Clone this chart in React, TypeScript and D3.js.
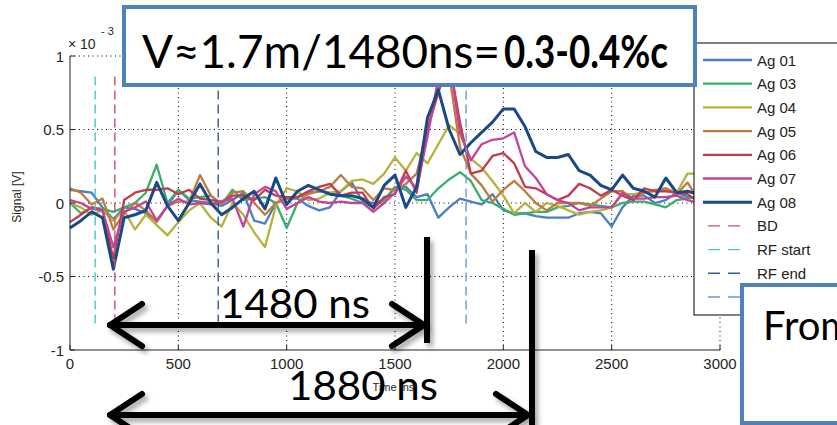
import React from 'react';
import * as d3 from 'd3';

// sample times (ns) of the scope traces
const timeNs = [
  0, 50, 100, 150, 200, 250, 300, 350, 400, 450, 500, 550, 600, 650, 700, 750,
  800, 850, 900, 950, 1000, 1050, 1100, 1150, 1200, 1250, 1300, 1350, 1400, 1450,
  1500, 1550, 1600, 1650, 1700, 1750, 1800, 1850, 1900, 1950, 2000, 2050, 2100,
  2150, 2200, 2250, 2300, 2350, 2400, 2450, 2500, 2550, 2600, 2650, 2700, 2750,
  2800, 2850, 2900, 2950, 3000,
];

// signal values in units of 1e-3 V
const ag01 = [
  0.09, 0.08, 0.07, -0.03, -0.11, -0.03, -0.04, -0.07, -0.12, -0.02, 0.09, 0.02, 0.01, 0.0, -0.02, 0.02,
  0.07, -0.12, -0.14, 0.0, 0.03, 0.03, -0.02, -0.05, -0.03, 0.08, 0.14, 0.01, 0.0, 0.02,
  0.1, 0.11, 0.04, 0.06, -0.1, -0.03, 0.03, 0.01, -0.01, 0.06, -0.05, -0.07, -0.07,
  -0.09, -0.1, -0.1, -0.1, -0.07, -0.06, -0.07, -0.16, -0.03, 0.05, 0.05, 0.0, 0.02,
  0.07, 0.04, 0.04, 0.03, 0.02,
];
const ag03 = [
  0.0, -0.07, -0.03, -0.04, -0.06, -0.03, 0.0, 0.07, 0.26, 0.0, 0.09, 0.03, 0.04, 0.05, -0.01, 0.09,
  0.02, 0.03, 0.04, 0.0, -0.17, 0.0, 0.07, 0.08, 0.07, 0.05, 0.03, 0.0, -0.03, 0.02,
  0.11, 0.09, 0.02, 0.02, 0.1, 0.16, 0.21, 0.15, 0.02, 0.0, -0.04, -0.08, -0.07,
  -0.06, -0.06, -0.03, -0.02, 0.0, -0.01, -0.02, -0.03, 0.0, 0.01, 0.01, -0.01, -0.03,
  0.02, 0.03, 0.04, 0.05, 0.04,
];
const ag04 = [
  0.0, -0.03, -0.08, -0.05, -0.12, -0.05, -0.18, -0.08, -0.15, -0.22, -0.13, -0.05, 0.0, -0.1, -0.16, 0.0,
  -0.08, -0.2, -0.3, -0.02, 0.1, 0.08, 0.02, 0.03, 0.07, 0.08, 0.15, 0.16, 0.13, 0.2,
  0.31, 0.22, 0.34, 0.27, 0.4, 0.53, 0.47, 0.3, 0.24, 0.15, 0.05, -0.07, 0.0,
  -0.06, 0.0, -0.02, -0.05, -0.08, -0.06, -0.05, -0.03, 0.06, 0.06, 0.07, 0.08, 0.1,
  0.07, 0.2, 0.2, 0.12, 0.08,
];
const ag05 = [
  0.1, 0.07, -0.01, 0.03, -0.18, -0.07, 0.0, -0.05, -0.13, -0.02, 0.01, 0.01, 0.19, 0.05, -0.01, 0.07,
  0.08, 0.0, -0.08, 0.0, 0.03, 0.04, 0.06, 0.08, 0.11, 0.19, 0.11, 0.1, 0.02, 0.1,
  0.09, 0.13, 0.2, 0.5, 0.8, 0.88, 0.38, 0.2, 0.12, 0.01, 0.09, 0.15, 0.08,
  0.0, -0.05, 0.0, 0.0, 0.0, -0.02, 0.03, 0.08, 0.08, 0.02, 0.07, 0.09, 0.1,
  0.06, 0.14, 0.02, 0.04, 0.03,
];
const ag06 = [
  -0.13, -0.08, -0.03, -0.05, -0.38, 0.02, 0.07, 0.09, 0.09, 0.1, 0.06, 0.09, 0.03, 0.02, 0.01, 0.05,
  0.05, 0.02, 0.09, 0.05, 0.04, 0.04, 0.08, 0.11, 0.13, 0.05, 0.07, 0.07, -0.04, 0.04,
  0.06, 0.22, 0.07, 0.5, 0.75, 0.97, 0.55, 0.2, 0.22, 0.32, 0.34, 0.27, 0.11,
  0.1, 0.06, 0.02, 0.05, 0.13, 0.1, 0.05, 0.09, 0.05, 0.02, 0.1, 0.08, 0.08,
  0.07, 0.06, 0.01, 0.04, 0.03,
];
const ag07 = [
  0.02, 0.0, -0.04, -0.05, -0.3, -0.06, -0.03, 0.01, -0.12, -0.02, 0.03, -0.01, 0.0, -0.01, 0.01, 0.03,
  -0.16, 0.06, 0.11, 0.08, -0.04, 0.0, 0.04, 0.01, 0.0, 0.01, 0.0, 0.0, -0.06, 0.0,
  0.07, 0.18, 0.1, 0.45, 0.85, 0.98, 0.48, 0.29, 0.4, 0.43, 0.44, 0.48, 0.25,
  0.17, 0.06, 0.02, 0.0, -0.05, -0.03, -0.03, -0.03, 0.07, 0.03, 0.03, 0.04, 0.04,
  0.05, 0.02, 0.0, 0.02, 0.01,
];
const ag08 = [
  -0.17, -0.12, -0.06, -0.1, -0.45, -0.1, -0.08, -0.05, 0.14, -0.02, -0.12, 0.0, 0.13, 0.0, -0.08, -0.03,
  0.03, 0.08, -0.04, 0.17, -0.01, 0.08, 0.12, 0.09, 0.06, 0.05, 0.05, 0.03, -0.03, 0.12,
  0.19, -0.03, 0.11, 0.58, 0.77, 0.5, 0.33, 0.41, 0.48, 0.55, 0.64, 0.64, 0.52,
  0.35, 0.31, 0.31, 0.33, 0.22, 0.19, 0.12, 0.09, 0.19, 0.1, 0.08, 0.04, 0.17,
  0.07, 0.08, 0.06, 0.05, 0.04,
];

const seriesNames = ['Ag 01', 'Ag 03', 'Ag 04', 'Ag 05', 'Ag 06', 'Ag 07', 'Ag 08'];
const seriesValues = [ag01, ag03, ag04, ag05, ag06, ag07, ag08];
const seriesColors = ['#4b7fbf', '#3aae6e', '#b5b33a', '#c07a3e', '#c43c4c', '#c2449a', '#1a4a85'];

// vertical marker lines (ns)
const markerNames = ['BD', 'RF start', 'RF end', ''];
const markerTimes = [207, 116, 684, 1828];
const markerColors = ['#d0505a', '#4cc4c4', '#2e5f94', '#6a9ad6'];

const xTicks = [0, 500, 1000, 1500, 2000, 2500, 3000];
const yTicks = [-1, -0.5, 0, 0.5, 1];

const W = 837;
const H = 425;
const x = d3.scaleLinear().domain([0, 3000]).range([70, 720]);
const y = d3.scaleLinear().domain([-1, 1]).range([350, 56]);

const line = d3.line<number>()
  .x((_, i) => x(timeNs[i]))
  .y(d => y(d));

const legendY = (i: number) => 60 + i * 23.7;
const tickFont = '"Liberation Sans", Arial, sans-serif';
const bigFont = 'Lato, "Open Sans", sans-serif';

function Arrow({ x1, x2, yy }: { x1: number; x2: number; yy: number }) {
  const hx = 32;
  const hy = 21;
  return (
    <g stroke="#000" strokeWidth={6} fill="none" strokeLinecap="round" strokeLinejoin="round" filter="url(#sh)">
      <line x1={x1} x2={x2} y1={yy} y2={yy} />
      <polyline points={`${x1 + hx},${yy - hy} ${x1},${yy} ${x1 + hx},${yy + hy}`} />
      <polyline points={`${x2 - hx},${yy - hy} ${x2},${yy} ${x2 - hx},${yy + hy}`} />
    </g>
  );
}

export default function App() {
  return (
    <svg width={W} height={H} style={{ position: 'absolute', left: 0, top: 0, background: '#fff' }}>
      <defs>
        <filter id="sh" x="-20%" y="-50%" width="140%" height="200%">
          <feDropShadow dx="3" dy="4" stdDeviation="2.5" floodColor="#000" floodOpacity="0.35" />
        </filter>
      </defs>

      {/* dotted grid */}
      <g stroke="#000" strokeWidth={1} strokeDasharray="1,3.5">
        {xTicks.filter(t => t > 0).map(t => (
          <line key={'gx' + t} x1={x(t)} x2={x(t)} y1={y(-1)} y2={y(1)} />
        ))}
        {yTicks.filter(t => t > -1).map(t => (
          <line key={'gy' + t} x1={x(0)} x2={x(3000)} y1={y(t)} y2={y(t)} />
        ))}
      </g>

      {/* traces */}
      <g fill="none" strokeLinejoin="round">
        {seriesValues.map((vals, i) => (
          <path key={seriesNames[i]} d={line(vals) || ''} stroke={seriesColors[i]} strokeWidth={i === 6 ? 3 : 2.3} />
        ))}
      </g>

      {/* markers */}
      <g strokeWidth={1.4} strokeDasharray="9,5">
        {markerTimes.map((t, i) => (
          <line key={'m' + i} x1={x(t)} x2={x(t)} y1={y(0.86)} y2={y(-0.85)} stroke={markerColors[i]} />
        ))}
      </g>

      {/* axes */}
      <g stroke="#222" strokeWidth={1}>
        <line x1={x(0)} x2={x(0)} y1={y(1)} y2={y(-1)} />
        <line x1={x(0)} x2={x(3000)} y1={y(-1)} y2={y(-1)} />
        {xTicks.map(t => (
          <line key={'tx' + t} x1={x(t)} x2={x(t)} y1={y(-1)} y2={y(-1) - 5} />
        ))}
        {yTicks.map(t => (
          <line key={'ty' + t} x1={x(0)} x2={x(0) + 5} y1={y(t)} y2={y(t)} />
        ))}
      </g>
      <g fontFamily={tickFont} fontSize={15} fill="#262626">
        {xTicks.map(t => (
          <text key={'lx' + t} x={x(t)} y={y(-1) + 13} textAnchor="middle" dominantBaseline="central">{t}</text>
        ))}
        {yTicks.map(t => (
          <text key={'ly' + t} x={x(0) - 6} y={y(t)} textAnchor="end" dominantBaseline="central">{t}</text>
        ))}
        <text x={68} y={49} fontSize={14}>× 10</text>
        <text x={101} y={35} fontSize={11}>- 3</text>
        <text transform="translate(21,197) rotate(-90)" textAnchor="middle" fontSize={12}>Signal [V]</text>
        <text x={395} y={391} textAnchor="middle" fontSize={11}>Time [ns]</text>
      </g>

      {/* legend */}
      <rect x={694} y={43} width={200} height={272} fill="#fff" stroke="#000" strokeWidth={1} />
      {seriesNames.map((n, i) => (
        <g key={'lg' + n}>
          <line x1={703} x2={752} y1={legendY(i)} y2={legendY(i)} stroke={seriesColors[i]} strokeWidth={i === 6 ? 3 : 2.3} />
          <text x={757} y={legendY(i)} dominantBaseline="central" fontFamily={tickFont} fontSize={15} fill="#222">{n}</text>
        </g>
      ))}
      {markerNames.map((n, i) => (
        <g key={'lm' + i}>
          <line x1={708} x2={748} y1={legendY(i + 7)} y2={legendY(i + 7)} stroke={markerColors[i]} strokeWidth={1.4} strokeDasharray="12,8" />
          <text x={757} y={legendY(i + 7)} dominantBaseline="central" fontFamily={tickFont} fontSize={15} fill="#222">{n}</text>
        </g>
      ))}

      {/* velocity box */}
      <rect x={124} y={7} width={571} height={78} fill="#fff" stroke="#4f81bd" strokeWidth={4} />
      <text x={142} y={68} fontFamily={bigFont} fontSize={46} fill="#000" textLength={358} lengthAdjust="spacingAndGlyphs">V≈1.7m/1480ns=</text>
      <text x={504} y={68} fontFamily={bigFont} fontSize={46} fontWeight="bold" fill="#000" textLength={164} lengthAdjust="spacingAndGlyphs">0.3-0.4%c</text>

      {/* time arrows */}
      <g filter="url(#sh)">
        <line x1={427} x2={427} y1={237} y2={343} stroke="#000" strokeWidth={6} />
        <line x1={532} x2={532} y1={250} y2={430} stroke="#000" strokeWidth={6} />
      </g>
      <Arrow x1={110} x2={424} yy={325} />
      <Arrow x1={110} x2={528} yy={415} />
      <text x={220} y={318} fontFamily={bigFont} fontSize={40} fill="#000" textLength={150} lengthAdjust="spacingAndGlyphs">1480 ns</text>
      <text x={288} y={400} fontFamily={bigFont} fontSize={40} fill="#000" textLength={150} lengthAdjust="spacingAndGlyphs">1880 ns</text>

      {/* source box */}
      <rect x={742} y={285} width={130} height={138} fill="#fff" stroke="#4f81bd" strokeWidth={4} />
      <text x={763} y={340} fontFamily={bigFont} fontSize={40} fill="#000">From</text>
    </svg>
  );
}
